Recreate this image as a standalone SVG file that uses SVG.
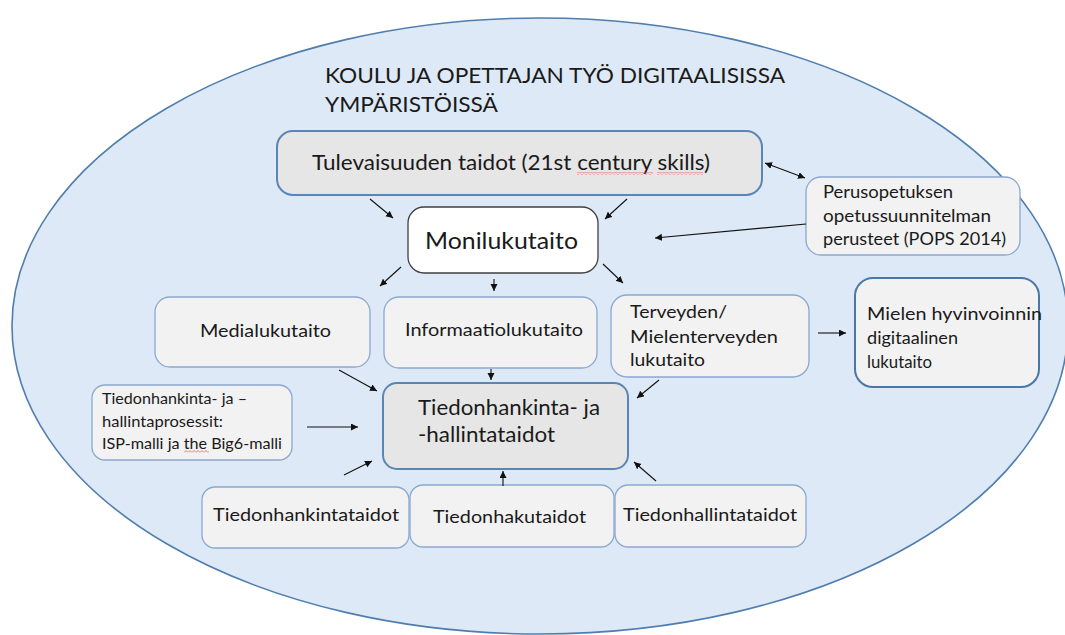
<svg xmlns="http://www.w3.org/2000/svg" width="1065" height="635" viewBox="0 0 1065 635">
<style>
text{font-family:Lato,"Liberation Sans",sans-serif;fill:#1a1a1a}
.gray{fill:#e6e6e6;stroke:#5a86b6;stroke-width:2}
.light{fill:#f2f2f2;stroke:#8aa8d0;stroke-width:1.3}
.dark{fill:#f2f2f2;stroke:#4a77a6;stroke-width:2}
.white{fill:#ffffff;stroke:#404040;stroke-width:1.3}
.con line{stroke:#111;stroke-width:1.1;marker-end:url(#ah)}
</style>
<defs>
<marker id="ah" markerWidth="8" markerHeight="8" refX="7" refY="3.5" orient="auto-start-reverse" markerUnits="userSpaceOnUse">
<path d="M0,0 L7,3.5 L0,7 Z" fill="#111"/>
</marker>
<pattern id="wavy" width="4" height="3" patternUnits="userSpaceOnUse">
<path d="M0,2.5 L2,0.5 L4,2.5" fill="none" stroke="#e05555" stroke-width="0.8"/>
</pattern>
</defs>
<ellipse id="bg" cx="540" cy="326" rx="528" ry="308" fill="#dde9f6" stroke="#4f7eae" stroke-width="1.6"/>
<g id="title">
<text x="325" y="83" font-size="21" textLength="460" lengthAdjust="spacingAndGlyphs">KOULU JA OPETTAJAN TYÖ DIGITAALISISSA</text>
<text x="325" y="112" font-size="21" textLength="173" lengthAdjust="spacingAndGlyphs">YMPÄRISTÖISSÄ</text>
</g>
<g id="tulevaisuuden">
<rect class="gray" x="277" y="131" width="485" height="64" rx="16"/>
<text x="312" y="170" font-size="22" textLength="398" lengthAdjust="spacingAndGlyphs">Tulevaisuuden taidot (21st century skills)</text>
<rect x="577" y="172" width="76" height="3" fill="url(#wavy)"/>
<rect x="657" y="172" width="46" height="3" fill="url(#wavy)"/>
</g>
<g id="perusopetuksen">
<rect class="light" x="806" y="177" width="214" height="78" rx="15"/>
<text x="823" y="198" font-size="17" textLength="130" lengthAdjust="spacingAndGlyphs">Perusopetuksen</text>
<text x="823" y="222" font-size="17" textLength="168" lengthAdjust="spacingAndGlyphs">opetussuunnitelman</text>
<text x="823" y="245" font-size="17" textLength="183" lengthAdjust="spacingAndGlyphs">perusteet (POPS 2014)</text>
</g>
<g id="monilukutaito">
<rect class="white" x="408" y="207" width="190" height="66" rx="16"/>
<text x="425" y="249" font-size="24" textLength="153" lengthAdjust="spacingAndGlyphs">Monilukutaito</text>
</g>
<g id="medialukutaito">
<rect class="light" x="155" y="297" width="215" height="70" rx="15"/>
<text x="200" y="337" font-size="17" textLength="131" lengthAdjust="spacingAndGlyphs">Medialukutaito</text>
</g>
<g id="informaatiolukutaito">
<rect class="light" x="384" y="297" width="213" height="71" rx="15"/>
<text x="405" y="336" font-size="17" textLength="178" lengthAdjust="spacingAndGlyphs">Informaatiolukutaito</text>
</g>
<g id="terveyden">
<rect class="light" x="611" y="295" width="198" height="82" rx="16"/>
<text x="630" y="318" font-size="17" textLength="97" lengthAdjust="spacingAndGlyphs">Terveyden/</text>
<text x="630" y="343" font-size="17" textLength="148" lengthAdjust="spacingAndGlyphs">Mielenterveyden</text>
<text x="630" y="366" font-size="17" textLength="75" lengthAdjust="spacingAndGlyphs">lukutaito</text>
</g>
<g id="mielen">
<rect class="dark" x="855" y="278" width="184" height="109" rx="18"/>
<text x="867" y="320" font-size="18" textLength="175" lengthAdjust="spacingAndGlyphs">Mielen hyvinvoinnin</text>
<text x="867" y="344" font-size="18" textLength="91" lengthAdjust="spacingAndGlyphs">digitaalinen</text>
<text x="867" y="368" font-size="18" textLength="65" lengthAdjust="spacingAndGlyphs">lukutaito</text>
</g>
<g id="prosessit">
<rect class="light" x="92" y="385" width="200" height="75" rx="13"/>
<text x="102" y="404" font-size="15" textLength="145" lengthAdjust="spacingAndGlyphs">Tiedonhankinta- ja –</text>
<text x="102" y="427" font-size="15" textLength="121" lengthAdjust="spacingAndGlyphs">hallintaprosessit:</text>
<text x="102" y="449" font-size="15" textLength="180" lengthAdjust="spacingAndGlyphs">ISP-malli ja the Big6-malli</text>
<rect x="184" y="450" width="25" height="3" fill="url(#wavy)"/>
</g>
<g id="hallintataidot">
<rect class="gray" x="383" y="383" width="245" height="86" rx="14"/>
<text x="418" y="415" font-size="22" textLength="182" lengthAdjust="spacingAndGlyphs">Tiedonhankinta- ja</text>
<text x="418" y="442" font-size="22" textLength="137" lengthAdjust="spacingAndGlyphs">-hallintataidot</text>
</g>
<g id="hankintataidot">
<rect class="light" x="202" y="487" width="207" height="61" rx="13"/>
<text x="213" y="521" font-size="17" textLength="186" lengthAdjust="spacingAndGlyphs">Tiedonhankintataidot</text>
</g>
<g id="hakutaidot">
<rect class="light" x="410" y="485" width="204" height="62" rx="13"/>
<text x="433" y="523" font-size="17" textLength="153" lengthAdjust="spacingAndGlyphs">Tiedonhakutaidot</text>
</g>
<g id="hallintataidot2">
<rect class="light" x="615" y="485" width="191" height="62" rx="13"/>
<text x="623" y="521" font-size="17" textLength="174" lengthAdjust="spacingAndGlyphs">Tiedonhallintataidot</text>
</g>
<g id="connectors" class="con">
<line x1="765" y1="163" x2="805" y2="178" style="marker-start:url(#ah)"/>
<line x1="370" y1="199" x2="393" y2="218"/>
<line x1="627" y1="199" x2="605" y2="219"/>
<line x1="806" y1="224" x2="655" y2="238"/>
<line x1="401" y1="267" x2="380" y2="286"/>
<line x1="494" y1="279" x2="494" y2="291"/>
<line x1="603" y1="264" x2="623" y2="283"/>
<line x1="339" y1="370" x2="377" y2="391"/>
<line x1="491" y1="369" x2="491" y2="380"/>
<line x1="659" y1="380" x2="637" y2="398"/>
<line x1="818" y1="333" x2="846" y2="333"/>
<line x1="307" y1="427" x2="358" y2="427"/>
<line x1="344" y1="475" x2="372" y2="461"/>
<line x1="503" y1="486" x2="503" y2="471"/>
<line x1="656" y1="481" x2="634" y2="462"/>
</g>
</svg>
